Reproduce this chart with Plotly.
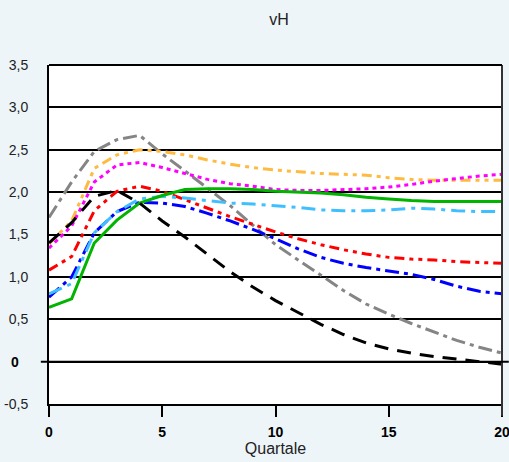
import plotly.graph_objects as go

quarters = list(range(21))

black = [1.40, 1.64, 1.95, 2.02, 1.87, 1.66, 1.47, 1.26, 1.06, 0.88, 0.72, 0.58, 0.44, 0.32, 0.22, 0.15, 0.10, 0.06, 0.03, 0.00, -0.03]
gray = [1.70, 2.12, 2.48, 2.62, 2.67, 2.45, 2.25, 2.04, 1.84, 1.61, 1.38, 1.20, 1.02, 0.84, 0.68, 0.56, 0.45, 0.35, 0.25, 0.17, 0.10]
orange = [1.39, 1.66, 2.28, 2.44, 2.50, 2.48, 2.44, 2.38, 2.33, 2.29, 2.26, 2.24, 2.22, 2.21, 2.20, 2.17, 2.15, 2.14, 2.14, 2.14, 2.14]
magenta = [1.34, 1.60, 2.12, 2.32, 2.35, 2.29, 2.22, 2.15, 2.10, 2.07, 2.03, 2.02, 2.02, 2.03, 2.04, 2.06, 2.09, 2.13, 2.16, 2.19, 2.21]
red = [1.08, 1.24, 1.78, 2.01, 2.07, 2.01, 1.91, 1.81, 1.71, 1.62, 1.53, 1.45, 1.38, 1.32, 1.27, 1.23, 1.21, 1.20, 1.18, 1.17, 1.16]
blue = [0.76, 1.00, 1.52, 1.77, 1.88, 1.87, 1.83, 1.75, 1.66, 1.56, 1.45, 1.33, 1.23, 1.16, 1.11, 1.07, 1.03, 0.97, 0.89, 0.83, 0.80]
lightblue = [0.80, 0.92, 1.52, 1.77, 1.92, 1.95, 1.93, 1.90, 1.87, 1.86, 1.84, 1.82, 1.79, 1.78, 1.78, 1.79, 1.81, 1.80, 1.78, 1.77, 1.77]
green = [0.64, 0.74, 1.40, 1.67, 1.87, 1.96, 2.03, 2.04, 2.04, 2.03, 2.01, 2.00, 1.99, 1.97, 1.94, 1.92, 1.90, 1.89, 1.89, 1.89, 1.89]

y_ticks = [-0.5, 0, 0.5, 1.0, 1.5, 2.0, 2.5, 3.0, 3.5]
y_labels = ["-0,5", "", "0,5", "1,0", "1,5", "2,0", "2,5", "3,0", "3,5"]
x_ticks = [0, 5, 10, 15, 20]
x_labels = ["<b>0</b>", "<b>5</b>", "<b>10</b>", "<b>15</b>", "<b>20</b>"]

series = [
    (gray, "#858585", "14px,5px,4px,5px"),
    (orange, "#FFBA40", "10px,5px,4px,5px,4px,5px"),
    (magenta, "#FF00FF", "4px,4px"),
    (red, "#FF0000", "10px,5px,4px,5px,4px,5px"),
    (blue, "#0000FF", "14px,5px,4px,5px"),
    (lightblue, "#40BFFF", "14px,6px,4px,6px"),
    (green, "#00B400", "solid"),
    (black, "#000000", "14px,9px"),
]

fig = go.Figure()
for vals, col, dash in series:
    fig.add_trace(go.Scatter(x=quarters, y=vals, mode="lines",
                             line=dict(color=col, width=3, dash=dash),
                             showlegend=False, hoverinfo="skip", cliponaxis=True))

fig.update_layout(
    width=509, height=462,
    margin=dict(l=49, r=7, t=65, b=58, autoexpand=False),
    paper_bgcolor="#EDF5F9",
    plot_bgcolor="#FFFFFF",
    title=dict(text="vH", xref="container", x=279 / 509, xanchor="center",
               yref="container", y=1 - 19 / 462, yanchor="middle",
               automargin=False,
               font=dict(family="Liberation Sans, Arial", size=16, color="#222222")),
    font=dict(family="Liberation Sans, Arial", color="#222222"),
    xaxis=dict(range=[0, 20], tickvals=x_ticks, ticktext=x_labels, automargin=False,
               ticks="outside", ticklen=11, tickwidth=2, tickcolor="#000000",
               ticklabeloverflow="allow", ticklabelstandoff=3,
               showgrid=False, zeroline=False, showline=True, linecolor="#000000",
               linewidth=2, mirror=False,
               tickfont=dict(size=14, color="#000000"),
               title=dict(text="Quartale", font=dict(size=16, color="#222222"), standoff=0)),
    yaxis=dict(range=[-0.5, 3.5], tickvals=y_ticks, ticktext=y_labels, automargin=False,
               showgrid=True, gridcolor="#000000", gridwidth=2,
               zeroline=False, showline=True, linecolor="#000000", linewidth=2,
               ticks="", ticklabelstandoff=16,
               tickfont=dict(size=14, color="#222222")),
)

# right frame edge and top edge
fig.add_shape(type="line", xref="paper", yref="paper", x0=1, x1=1, y0=-0.035, y1=1,
              line=dict(color="#333333", width=2))
fig.add_shape(type="line", xref="paper", yref="paper", x0=0, x1=1, y0=1, y1=1,
              line=dict(color="#000000", width=2))
# zero line with small tick to the left
fig.add_shape(type="line", xref="paper", yref="y", x0=-0.018, x1=1.015, y0=0, y1=0,
              line=dict(color="#000000", width=2))
fig.add_annotation(text="<b>0</b>", xref="paper", yref="y", x=-0.075, y=0,
                   showarrow=False, xanchor="center", font=dict(size=14, color="#000000"))

fig.write_html("out.html", config={"displayModeBar": False},
               post_script="document.body.style.margin='0';document.body.style.overflow='hidden';")
